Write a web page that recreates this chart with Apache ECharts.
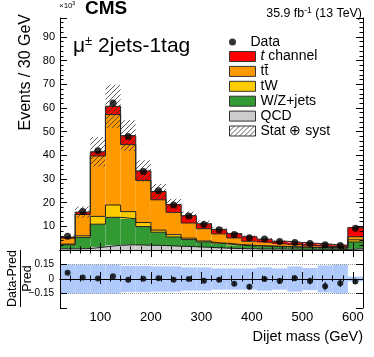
<!DOCTYPE html>
<html><head><meta charset="utf-8">
<script src="https://cdn.jsdelivr.net/npm/echarts@6/dist/echarts.min.js"></script>
<style>html,body{margin:0;padding:0;background:#fff}#c{width:374px;height:357px}</style>
</head><body><div id="c"></div>
<script>
// ---- data (units of 10^3 events per 30 GeV) ----
const binEdges = [20,50,80,110,140,170,200,230,260,290,320,350,380,410,440,470,500,530,560,590,620];
const qcd      = [0.5,0.6,1.3,2.0,2.2,2.0,1.9,1.6,1.4,1.1,0.8,0.6,0.5,0.4,0.4,0.3,0.3,0.3,0.2,0.5];
const wzjets   = [1.7,4.7,9.6,11.8,11.0,7.9,5.6,3.9,3.0,2.3,1.8,1.4,1.2,1.1,0.9,0.9,0.7,0.6,0.6,2.9];
const tw       = [0.3,0.7,3.3,5.2,3.0,1.7,0.9,1.0,0.6,0.4,0.3,0.3,0.2,0.2,0.2,0.1,0.1,0.1,0.1,0.9];
const ttbar    = [2.5,9.0,25.5,38.2,28.3,17.8,12.8,9.4,6.4,5.2,3.9,2.8,1.8,1.4,1.0,0.9,0.7,0.5,0.4,1.3];
const tchannel = [0.4,1.0,1.8,3.5,3.8,4.0,3.5,3.3,3.1,2.1,1.9,1.8,1.9,1.5,1.2,1.0,1.0,0.9,0.7,3.85];
const dataVals = [5.8,16.3,41.9,62.1,47.9,33.2,25.0,19.0,14.4,10.8,8.6,6.5,5.2,4.6,3.6,3.2,2.7,2.2,1.9,9.2];
const relUnc   = [0.15,0.15,0.15,0.15,0.135,0.135,0.13,0.13,0.12,0.12,0.11,0.11,0.11,0.12,0.11,0.13,0.115,0.14,0.15,0.025];
const ratioVals= [0.065,0.015,0.005,0.029,-0.008,0.002,0.009,-0.008,-0.001,-0.018,-0.008,-0.048,-0.081,-0.001,-0.021,0.009,-0.021,-0.075,-0.045,-0.025];
const ratioErr = [0.01,0.01,0.005,0.005,0.005,0.008,0.01,0.01,0.012,0.015,0.018,0.02,0.03,0.025,0.03,0.03,0.035,0.043,0.038,0.023];
const xTickLabels = [100,200,300,400,500,600];
const yTickLabels = [10,20,30,40,50,60,70,80,90];
const ratioTickLabels = [-0.15,0,0.15];

const layerNames  = ['QCD','W/Z+jets','tW','tt\u0304','t channel'];
const layerColors = ['#cccccc','#339933','#ffcc00','#ff9900','#ff0000'];
const layers = [qcd, wzjets, tw, ttbar, tchannel];

const FONT = '"Liberation Sans", Arial, Helvetica, sans-serif';
const nb = dataVals.length;

// cumulative stack
const cum = [];
layers.forEach((L, k) => {
  cum.push(L.map((v, i) => (k ? cum[k-1][i] : 0) + v));
});
const total = cum[cum.length-1];

// hatch pattern
const pc = document.createElement('canvas'); pc.width = 5; pc.height = 5;
const g = pc.getContext('2d'); g.strokeStyle = '#333'; g.lineWidth = 0.8;
g.beginPath();
[[-1,6,6,-1],[-6,6,1,-1],[4,6,11,-1]].forEach(s => { g.moveTo(s[0],s[1]); g.lineTo(s[2],s[3]); });
g.stroke();
const hatch = {image: pc, repeat: 'repeat'};

function rectRender(fill) {
  return function (params, api) {
    const a = api.coord([api.value(0), api.value(3)]);
    const b = api.coord([api.value(1), api.value(2)]);
    return {type: 'rect', shape: {x: a[0], y: a[1], width: b[0]-a[0], height: b[1]-a[1]},
            style: {fill: fill || api.visual('color'), stroke: null}};
  };
}

const series = [];
layers.forEach((L, k) => {
  series.push({
    name: layerNames[k], type: 'custom', xAxisIndex: 0, yAxisIndex: 0, z: 2, clip: true,
    itemStyle: {color: layerColors[k]},
    encode: {x: [0,1], y: [2,3]},
    renderItem: rectRender(null),
    data: L.map((v, i) => [binEdges[i], binEdges[i+1], k ? cum[k-1][i] : 0, cum[k][i]])
  });
});
layers.forEach((L, k) => {
  const pts = cum[k].map((v, i) => [binEdges[i], v]);
  pts.push([binEdges[nb], cum[k][nb-1]]);
  series.push({
    type: 'line', xAxisIndex: 0, yAxisIndex: 0, z: 3, step: 'end', symbol: 'none', silent: true,
    lineStyle: {color: '#222', width: 1}, data: pts
  });
});
series.push({
  name: 'Stat \u2295 syst', type: 'custom', xAxisIndex: 0, yAxisIndex: 0, z: 4, clip: true,
  itemStyle: {color: hatch},
  encode: {x: [0,1], y: [2,3]},
  renderItem: rectRender(hatch),
  data: total.map((t, i) => [binEdges[i], binEdges[i+1], t*(1-relUnc[i]), t*(1+relUnc[i])])
});
series.push({
  name: 'Data', type: 'scatter', xAxisIndex: 0, yAxisIndex: 0, z: 5, symbolSize: 7,
  itemStyle: {color: '#000'},
  data: dataVals.map((v, i) => [(binEdges[i]+binEdges[i+1])/2, v])
});
// ratio panel
series.push({
  type: 'custom', xAxisIndex: 2, yAxisIndex: 2, z: 2, clip: true,
  itemStyle: {color: 'rgb(175,201,251)'},
  encode: {x: [0,1], y: [2,3]},
  renderItem: rectRender(null),
  data: relUnc.map((r, i) => [binEdges[i], binEdges[i+1], -r, r])
});
series.push({
  type: 'custom', xAxisIndex: 2, yAxisIndex: 2, z: 4, clip: true,
  renderItem: function (params, api) {
    const a = api.coord([api.value(0), api.value(1)]);
    const b = api.coord([api.value(0), api.value(2)]);
    return {type: 'line', shape: {x1: a[0], y1: a[1], x2: b[0], y2: b[1]}, style: {stroke: '#000', lineWidth: 1}};
  },
  data: ratioVals.map((v, i) => [(binEdges[i]+binEdges[i+1])/2, v-ratioErr[i], v+ratioErr[i]])
});
series.push({
  type: 'scatter', xAxisIndex: 2, yAxisIndex: 2, z: 5, symbolSize: 6,
  itemStyle: {color: '#000'},
  data: ratioVals.map((v, i) => [(binEdges[i]+binEdges[i+1])/2, v]),
  markLine: {
    silent: true, symbol: 'none', label: {show: false}, animation: false,
    data: [
      {yAxis: 0.15, lineStyle: {color: '#999', type: 'dotted', width: 1}},
      {yAxis: -0.15, lineStyle: {color: '#999', type: 'dotted', width: 1}},
      {yAxis: 0, lineStyle: {color: '#556', type: 'dotted', width: 1}}
    ]
  }
});

const axLine = {show: true, lineStyle: {color: '#000', width: 1}};
function xAx(grid, pos, labels, tickLen) {
  return {
    type: 'value', gridIndex: grid, position: pos, min: 20, max: 620, splitNumber: 6, z: 10,
    axisLine: axLine,
    axisTick: {show: true, inside: true, length: tickLen, lineStyle: {color: '#000'}},
    minorTick: {show: true, splitNumber: 5, length: tickLen/2, lineStyle: {color: '#000'}},
    splitLine: {show: false},
    axisLabel: labels ? {show: true, margin: 3, color: '#000', fontSize: 13, fontFamily: FONT,
      formatter: v => xTickLabels.indexOf(v) >= 0 ? String(v) : ''} : {show: false}
  };
}
function yMain(pos, labels) {
  return {
    type: 'value', gridIndex: 0, position: pos, min: 0, max: 98, interval: 10, z: 10,
    axisLine: axLine,
    axisTick: {show: true, inside: true, length: 7, lineStyle: {color: '#000'}},
    minorTick: {show: true, splitNumber: 5, length: 3.5, lineStyle: {color: '#000'}},
    splitLine: {show: false},
    axisLabel: labels ? {show: true, margin: 5, color: '#000', fontSize: 11, fontFamily: FONT,
      formatter: v => yTickLabels.indexOf(v) >= 0 ? String(v) : ''} : {show: false}
  };
}
function yRatio(pos, labels) {
  return {
    type: 'value', gridIndex: 1, position: pos, min: -0.3, max: 0.3, interval: 0.15, z: 10,
    axisLine: axLine,
    axisTick: {show: true, inside: true, length: 7, lineStyle: {color: '#000'}},
    splitLine: {show: false},
    axisLabel: labels ? {show: true, margin: 6, color: '#000', fontSize: 10, fontFamily: FONT,
      formatter: v => {
        const m = ratioTickLabels.find(t => Math.abs(t - v) < 1e-6);
        if (m === undefined) return '';
        return m === 0 ? '0' : (m < 0 ? '\u2212' + String(-m) : String(m));
      }} : {show: false}
  };
}

const txt = {fill: '#000', fontFamily: FONT};
const option = {
  animation: false,
  grid: [
    {left: 60, top: 18, width: 303, height: 232, containLabel: false, outerBoundsMode: 'none'},
    {left: 60, top: 250, width: 303, height: 58, containLabel: false, outerBoundsMode: 'none'}
  ],
  xAxis: [xAx(0,'bottom',false,7), xAx(0,'top',false,7), xAx(1,'bottom',true,7), xAx(1,'top',false,5)],
  yAxis: [yMain('left',true), yMain('right',false), yRatio('left',true), yRatio('right',false)],
  legend: [
    {left: 229, top: 35, padding: 0, orient: 'vertical', selectedMode: false,
     itemWidth: 26, itemHeight: 7, itemGap: 1,
     textStyle: {color: '#000', fontSize: 14, fontFamily: FONT, lineHeight: 14},
     data: [{name: 'Data', icon: 'circle'}]},
    {left: 229, top: 49.5, padding: 0, orient: 'vertical', selectedMode: false,
     itemWidth: 26, itemHeight: 10, itemGap: 0.9,
     itemStyle: {borderColor: '#333', borderWidth: 1},
     textStyle: {color: '#000', fontSize: 14, fontFamily: FONT, lineHeight: 14,
       rich: {it: {fontStyle: 'italic', fontSize: 14, fontFamily: FONT, color: '#000', lineHeight: 14}}},
     formatter: n => n === 't channel' ? '{it|t} channel' : n,
     data: ['t channel','tt\u0304','tW','W/Z+jets','QCD','Stat \u2295 syst'].map(n => ({name: n, icon: 'rect'}))}
  ],
  graphic: [
    {type: 'text', x: 59, y: 5.7, style: Object.assign({text: '\u00d710', fontSize: 8, align: 'left', verticalAlign: 'middle'}, txt)},
    {type: 'text', x: 72, y: 3.2, style: Object.assign({text: '3', fontSize: 6, align: 'left', verticalAlign: 'middle'}, txt)},
    {type: 'text', x: 85, y: 9, style: Object.assign({text: 'CMS', fontSize: 19, fontWeight: 'bold', align: 'left', verticalAlign: 'middle'}, txt)},
    {type: 'text', x: 362, y: 12.8, style: Object.assign({
      text: '{m|35.9 fb}{s|-1}{m| (13 TeV)}', align: 'right', verticalAlign: 'middle',
      rich: {m: {fontSize: 12.4, lineHeight: 13, verticalAlign: 'bottom', fontFamily: FONT, fill: '#000'},
             s: {fontSize: 8.5, lineHeight: 6, verticalAlign: 'top', fontFamily: FONT, fill: '#000'}}}, txt)},
    {type: 'text', x: 73, y: 45.5, style: Object.assign({
      text: '{m|\u03bc}{s|\u00b1}{m| 2jets-1tag}', align: 'left', verticalAlign: 'middle',
      rich: {m: {fontSize: 21, lineHeight: 22, verticalAlign: 'bottom', fontFamily: FONT, fill: '#000'},
             s: {fontSize: 13, lineHeight: 9, verticalAlign: 'top', fontFamily: FONT, fill: '#000'}}}, txt)},
    {type: 'text', x: 26, y: 14, rotation: Math.PI/2, style: Object.assign({text: 'Events / 30 GeV', fontSize: 16, align: 'right', verticalAlign: 'middle'}, txt)},
    {type: 'text', x: 363, y: 337, style: Object.assign({text: 'Dijet mass (GeV)', fontSize: 14.5, align: 'right', verticalAlign: 'middle'}, txt)},
    {type: 'group', x: 20.5, y: 278.5, rotation: Math.PI/2, children: [
      {type: 'text', x: 0, y: -1, style: Object.assign({text: 'Data-Pred', fontSize: 12.5, align: 'center', verticalAlign: 'bottom'}, txt)},
      {type: 'line', shape: {x1: -28.5, y1: 0, x2: 28.5, y2: 0}, style: {stroke: '#000', lineWidth: 1}},
      {type: 'text', x: 0, y: 1, style: Object.assign({text: 'Pred', fontSize: 12.5, align: 'center', verticalAlign: 'top'}, txt)}
    ]}
  ],
  series: series
};
const chart = echarts.init(document.getElementById('c'), null, {renderer: 'canvas'});
chart.setOption(option);
</script></body></html>
